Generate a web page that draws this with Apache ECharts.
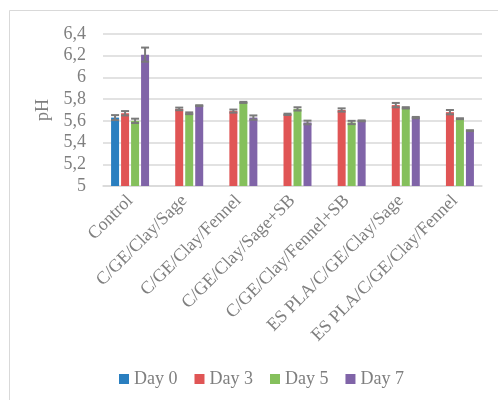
<!DOCTYPE html>
<html>
<head>
<meta charset="utf-8">
<script src="https://cdn.jsdelivr.net/npm/echarts@6/dist/echarts.min.js"></script>
<style>
  html, body { margin: 0; padding: 0; background: #fff; }
  #chart { width: 498px; height: 400px; }
</style>
</head>
<body>
<div id="chart"></div>
<script>
// pH of the samples over storage time
const categories = [
  'Control',
  'C/GE/Clay/Sage',
  'C/GE/Clay/Fennel',
  'C/GE/Clay/Sage+SB',
  'C/GE/Clay/Fennel+SB',
  'ES PLA/C/GE/Clay/Sage',
  'ES PLA/C/GE/Clay/Fennel'
];
const seriesNames = ['Day 0', 'Day 3', 'Day 5', 'Day 7'];
const day0 = [5.63, null, null, null, null, null, null];
const day3 = [5.67, 5.71, 5.69, 5.66, 5.70, 5.745, 5.68];
const day5 = [5.60, 5.67, 5.77, 5.71, 5.585, 5.72, 5.62];
const day7 = [6.21, 5.74, 5.63, 5.585, 5.60, 5.63, 5.51];
// standard deviations
const day0Err = [0.023, null, null, null, null, null, null];
const day3Err = [0.02, 0.012, 0.014, 0.006, 0.015, 0.02, 0.02];
const day5Err = [0.02, 0.008, 0.005, 0.015, 0.015, 0.006, 0.004];
const day7Err = [0.065, 0.004, 0.02, 0.017, 0.004, 0.006, 0.004];
const yTickLabels = ['5', '5,2', '5,4', '5,6', '5,8', '6', '6,2', '6,4'];

const colors = ['#2A7FC0', '#E05555', '#85C05C', '#8064A8'];
const values = [day0, day3, day5, day7];
const errors = [day0Err, day3Err, day5Err, day7Err];

const BAR_W = 8;
const BAR_STEP = 10;
const FONT = '"Liberation Serif", "Times New Roman", serif';
const TEXT = '#7F7F7F';

const barSeries = values.map((vals, i) => ({
  name: seriesNames[i],
  type: 'bar',
  data: vals,
  barWidth: BAR_W,
  barGap: '25%',
  itemStyle: { color: colors[i] },
  z: 2
}));

const errSeries = values.map((vals, i) => ({
  type: 'custom',
  name: seriesNames[i] + ' error',
  z: 5,
  silent: true,
  data: vals.map((v, k) => v == null ? null : [k, v, errors[i][k]]).filter(d => d),
  encode: { x: 0, y: 1 },
  renderItem: function (params, api) {
    const k = api.value(0), v = api.value(1), e = api.value(2);
    const dx = (i - 1.5) * BAR_STEP;
    const top = api.coord([k, v + e]);
    const bot = api.coord([k, v - e]);
    const x = top[0] + dx;
    const half = BAR_W / 2;
    const style = { stroke: '#7A7A7A', lineWidth: 2 };
    return {
      type: 'group',
      children: [
        { type: 'line', shape: { x1: x, y1: top[1], x2: x, y2: bot[1] }, style },
        { type: 'line', shape: { x1: x - half, y1: top[1], x2: x + half, y2: top[1] }, style },
        { type: 'line', shape: { x1: x - half, y1: bot[1], x2: x + half, y2: bot[1] }, style }
      ]
    };
  }
}));

const chart = echarts.init(document.getElementById('chart'));
chart.setOption({
  animation: false,
  backgroundColor: '#fff',
  textStyle: { fontFamily: FONT },
  graphic: [{
    type: 'rect',
    shape: { x: 9.5, y: 10.5, width: 700, height: 700 },
    style: { fill: 'none', stroke: '#D9D9D9', lineWidth: 1 },
    silent: true,
    z: -10
  }],
  grid: { left: 103, right: 16, top: 34, bottom: 214, containLabel: false },
  legend: {
    data: seriesNames,
    left: 114,
    top: 365,
    itemWidth: 10,
    itemHeight: 10,
    itemGap: 17,
    icon: 'rect',
    textStyle: { fontFamily: FONT, fontSize: 18, color: TEXT }
  },
  xAxis: {
    type: 'category',
    data: categories,
    axisTick: { show: false },
    axisLine: { lineStyle: { color: '#D9D9D9', width: 1.5 } },
    axisLabel: {
      rotate: 45,
      interval: 0,
      margin: 12,
      fontFamily: FONT,
      fontSize: 18,
      color: TEXT
    }
  },
  yAxis: {
    type: 'value',
    min: 5,
    max: 6.4,
    interval: 0.2,
    name: 'pH',
    nameLocation: 'middle',
    nameGap: 48,
    nameRotate: 90,
    nameTextStyle: { fontFamily: FONT, fontSize: 18, color: TEXT },
    axisLine: { show: false },
    axisTick: { show: false },
    splitLine: { lineStyle: { color: '#D9D9D9', width: 1.5 } },
    axisLabel: {
      margin: 17,
      fontFamily: FONT,
      fontSize: 18,
      color: TEXT,
      formatter: function (v) {
        return yTickLabels[Math.round((v - 5) / 0.2)];
      }
    }
  },
  series: barSeries.concat(errSeries)
});
</script>
</body>
</html>
